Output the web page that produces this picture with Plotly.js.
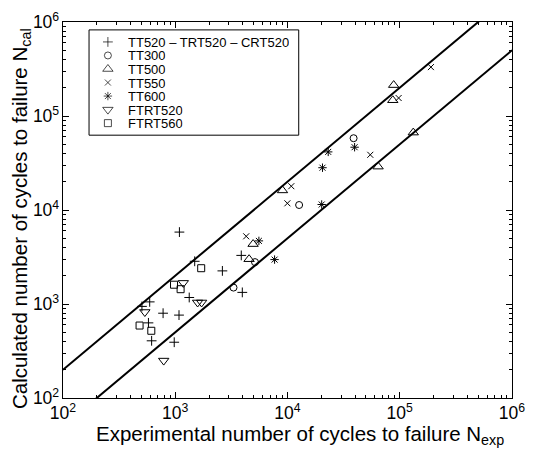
<!DOCTYPE html>
<html><head><meta charset="utf-8">
<script src="https://cdn.plot.ly/plotly-3.0.1.min.js"></script>
<style>html,body{margin:0;padding:0;background:#fff}#c{width:549px;height:450px}</style>
</head><body><div id="c"></div>
<script>
// ---- data ----
const tt520_x = [1089, 1490, 2630, 592, 505, 779, 577, 616, 1332, 1080, 979, 3874, 3957];
const tt520_y = [5821, 2847, 2250, 1053, 943, 798, 630, 406, 1173, 762, 392, 3289, 1329];
const tt300_x = [3304, 5133, 12688, 38800];
const tt300_y = [1495, 2791, 11303, 58040];
const tt500_x = [4546, 4937, 9025, 64150, 86700, 88300, 132000];
const tt500_y = [2997, 4338, 16160, 28950, 147200, 213200, 66600];
const tt550_x = [4287, 9977, 10813, 54650, 97680, 189500];
const tt550_y = [5250, 11785, 17920, 38660, 155400, 331300];
const tt600_x = [5562, 7674, 20500, 20170, 23050, 39610];
const tt600_y = [4692, 2968, 28180, 11440, 41500, 46560];
const ftrt520_x = [536, 1180, 1582, 1717, 789];
const ftrt520_y = [822, 1677, 1038, 1038, 250];
const ftrt560_x = [481, 612, 1703, 975, 1116];
const ftrt560_y = [590, 519, 2403, 1604, 1437];
// scatter band: N_cal = 2*N_exp and N_cal = N_exp/2
const bandFactor = [2, 0.5];
const bandX = [100, 1000000];
const seriesNames = ["TT520 \u2013 TRT520 \u2013 CRT520", "TT300", "TT500", "TT550", "TT600", "FTRT520", "FTRT560"];
const seriesSymbols = ["cross-thin-open", "circle-open", "triangle-up-open", "x-thin-open", "asterisk-open", "triangle-down-open", "square-open"];
const xTitle = "Experimental number of cycles to failure N<sub>exp</sub>";
const yTitle = "Calculated number of cycles to failure N<sub>cal</sub>";

const FONT = "Liberation Sans, Arial, sans-serif";
const xs = [tt520_x, tt300_x, tt500_x, tt550_x, tt600_x, ftrt520_x, ftrt560_x];
const ys = [tt520_y, tt300_y, tt500_y, tt550_y, tt600_y, ftrt520_y, ftrt560_y];
const sizes = [7, 7, 9, 6, 7, 9, 7];

const traces = [];
bandFactor.forEach(f => {
  traces.push({x: bandX, y: bandX.map(v => v * f), mode: "lines", type: "scatter",
    line: {color: "black", width: 2}, showlegend: false, hoverinfo: "skip"});
});
xs.forEach((xa, i) => {
  traces.push({x: xa, y: ys[i], mode: "markers", type: "scatter", name: seriesNames[i], showlegend: false,
    marker: {symbol: seriesSymbols[i], size: sizes[i], color: "black", line: {color: "black", width: 1}}});
});

// compact legend (symbols on an auxiliary 0..1 axis pair)
const lgX0 = 0.058, lgX1 = 0.525, lgTop = 0.979, lgRowH = 0.036, lgPadTop = 0.032;
const lgSymX = 0.1, lgTextX = 0.143;
traces.push({x: seriesNames.map(() => lgSymX), y: seriesNames.map((_, i) => lgTop - lgPadTop - i * lgRowH),
  xaxis: "x2", yaxis: "y2", mode: "markers", type: "scatter", showlegend: false, hoverinfo: "skip",
  marker: {symbol: seriesSymbols, size: sizes, color: "black", line: {color: "black", width: 1}}});

const annotations = seriesNames.map((n, i) => ({
  text: n, xref: "paper", yref: "paper", x: lgTextX, y: lgTop - lgPadTop - i * lgRowH,
  xanchor: "left", yanchor: "middle", height: 12, valign: "middle", borderpad: 0, showarrow: false,
  font: {family: FONT, size: 13, color: "black"}}));
annotations.push({text: xTitle, xref: "paper", yref: "paper", x: 0.527, y: -0.061, xanchor: "center", yanchor: "top",
  borderpad: 0, showarrow: false, font: {family: FONT, size: 20.5, color: "black"}});
annotations.push({text: yTitle, xref: "paper", yref: "paper", x: -0.094, y: 0.478, xanchor: "center", yanchor: "middle",
  textangle: -90, showarrow: false, font: {family: FONT, size: 20.5, color: "black"}});

const axisCommon = {
  type: "log", range: [2, 6], showgrid: false, zeroline: false, showline: true, mirror: "ticks", linecolor: "black", linewidth: 1,
  ticks: "inside", ticklen: 6, tickcolor: "black", dtick: 1, exponentformat: "power",
  tickfont: {family: FONT, size: 14, color: "black"},
  minor: {ticks: "inside", ticklen: 3, tickcolor: "black", showgrid: false}
};

const layout = {
  width: 549, height: 450,
  margin: {l: 63, r: 37, t: 22, b: 52},
  paper_bgcolor: "white", plot_bgcolor: "white",
  showlegend: false,
  xaxis: Object.assign({}, axisCommon),
  yaxis: Object.assign({}, axisCommon),
  xaxis2: {overlaying: "x", range: [0, 1], visible: false, anchor: "y2"},
  yaxis2: {overlaying: "y", range: [0, 1], visible: false, anchor: "x2"},
  shapes: [{type: "rect", xref: "paper", yref: "paper", x0: lgX0, x1: lgX1, y0: lgTop - 2 * lgPadTop - 6 * lgRowH, y1: lgTop,
    line: {color: "black", width: 1}, fillcolor: "white", layer: "below"}],
  annotations: annotations
};

Plotly.newPlot("c", traces, layout, {staticPlot: true});
</script></body></html>
